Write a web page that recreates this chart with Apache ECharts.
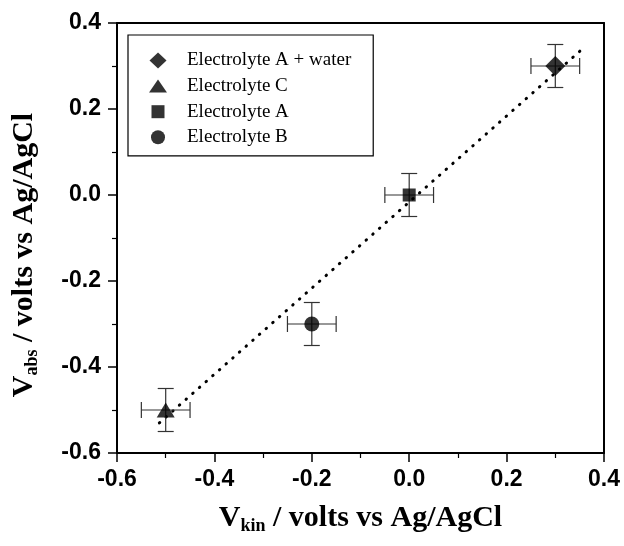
<!DOCTYPE html>
<html><head><meta charset="utf-8">
<script src="https://cdn.jsdelivr.net/npm/echarts@6/dist/echarts.min.js"></script>
<style>html,body{margin:0;padding:0;background:#fff}#chart{width:624px;height:546px}</style>
</head><body><div id="chart"></div>
<script>
// Measured potentials (V vs Ag/AgCl) for each electrolyte
const seriesNames = ['Electrolyte A + water', 'Electrolyte C', 'Electrolyte A', 'Electrolyte B'];
const vKin = [0.3, -0.5, 0.0, -0.2];
const vAbs = [0.3, -0.5, 0.0, -0.3];
const vKinErr = [0.05, 0.05, 0.05, 0.05];
const vAbsErr = [0.05, 0.05, 0.05, 0.05];
// End points of the linear fit
const fitKin = [-0.513, 0.353];
const fitAbs = [-0.530, 0.337];
const axisMin = -0.6, axisMax = 0.4, axisStep = 0.2;

const markerShapes = ['diamond', 'triangle', 'rect', 'circle'];
const markerSizes = [20, [18, 15], 13, 15];
// Legend glyphs drawn in an 18x16 cell (the leading moves pin the cell size)
const legendIcons = [
  'path://M0,0 M18,16 M9,0 L17.5,8 L9,16 L0.5,8 Z',
  'path://M0,0 M18,16 M0,14.5 L9,1.5 L18,14.5 Z',
  'path://M0,0 M18,16 M2.5,1.5 L15.5,1.5 L15.5,14.5 L2.5,14.5 Z',
  'path://M0,0 M18,16 M2,8 A7,7 0 1,0 16,8 A7,7 0 1,0 2,8 Z'
];

const chart = echarts.init(document.getElementById('chart'), null, {renderer: 'canvas'});

const serif = 'Liberation Serif';
const sans = 'Liberation Sans';

function axisCommon() {
  return {
    type: 'value', min: axisMin, max: axisMax, interval: axisStep,
    axisLine: {show: true, onZero: false, lineStyle: {color: '#000', width: 2}},
    axisTick: {show: true, inside: false, length: 9, lineStyle: {color: '#000', width: 1.5}},
    minorTick: {show: true, splitNumber: 2, length: 5, lineStyle: {color: '#000', width: 1.2}},
    splitLine: {show: false},
    axisLabel: {
      color: '#000', fontFamily: sans, fontWeight: 'bold', fontSize: 23,
      formatter: v => v.toFixed(1)
    }
  };
}

function titleRich() {
  return {
    v: {fontFamily: serif, fontSize: 30, color: '#000', fontWeight: 'bold'},
    sub: {fontFamily: serif, fontSize: 18, color: '#000', fontWeight: 'bold', padding: [16, 0, 0, 0]},
    n: {fontFamily: serif, fontSize: 30, color: '#000', fontWeight: 'bold'}
  };
}

const xAxis = Object.assign(axisCommon(), {
  position: 'bottom',
  name: '{v|V}{sub|kin}{n| / volts vs Ag/AgCl}',
  nameLocation: 'middle', nameGap: 48,
  nameTextStyle: {rich: titleRich()}
});
xAxis.axisLabel.margin = 15;

const yAxis = Object.assign(axisCommon(), {
  position: 'left',
  name: '{v|V}{sub|abs}{n| / volts vs Ag/AgCl}',
  nameLocation: 'middle', nameGap: 76, nameRotate: 90,
  nameTextStyle: {rich: titleRich(), padding: [0, 34, 0, 0]}
});
yAxis.axisLabel.margin = 16;

// Frame lines on top and right
const frameAxis = (pos) => ({
  type: 'value', min: axisMin, max: axisMax, interval: axisStep, position: pos,
  axisLine: {show: true, onZero: false, lineStyle: {color: '#000', width: 2}},
  axisTick: {show: false}, axisLabel: {show: false}, splitLine: {show: false}
});

const points = seriesNames.map((n, i) => [vKin[i], vAbs[i], vKinErr[i], vAbsErr[i]]);

const errorSeries = {
  type: 'custom', name: 'errors', z: 3, silent: true,
  data: points,
  renderItem: function (params, api) {
    const x = api.value(0), y = api.value(1), dx = api.value(2), dy = api.value(3);
    const c = api.coord([x, y]);
    const l = api.coord([x - dx, y]), r = api.coord([x + dx, y]);
    const t = api.coord([x, y + dy]), b = api.coord([x, y - dy]);
    const cap = 8;
    const st = {stroke: '#333', lineWidth: 1.2};
    const ln = (x1, y1, x2, y2) => ({type: 'line', shape: {x1, y1, x2, y2}, style: st});
    return {
      type: 'group',
      children: [
        ln(l[0], c[1], r[0], c[1]),
        ln(l[0], c[1] - cap, l[0], c[1] + cap),
        ln(r[0], c[1] - cap, r[0], c[1] + cap),
        ln(c[0], t[1], c[0], b[1]),
        ln(c[0] - cap, t[1], c[0] + cap, t[1]),
        ln(c[0] - cap, b[1], c[0] + cap, b[1])
      ]
    };
  }
};

const fitSeries = {
  type: 'line', name: 'fit', z: 2, silent: true, showSymbol: false, symbol: 'none',
  data: fitKin.map((x, i) => [x, fitAbs[i]]),
  lineStyle: {color: '#000', width: 3, type: [0.5, 8.4], cap: 'round'}
};

const scatterSeries = seriesNames.map((n, i) => ({
  type: 'scatter', name: n, z: 5,
  symbol: markerShapes[i], symbolSize: markerSizes[i],
  itemStyle: {color: '#000'},
  data: [[vKin[i], vAbs[i]]]
}));

chart.setOption({
  animation: false,
  backgroundColor: '#fff',
  grid: {left: 117, top: 23, right: 20, bottom: 93, containLabel: false},
  xAxis: [xAxis, frameAxis('top')],
  yAxis: [yAxis, frameAxis('right')],
  legend: {
    orient: 'vertical', left: 128, top: 35,
    data: seriesNames.map((n, i) => ({name: n, icon: legendIcons[i]})),
    itemWidth: 18, itemHeight: 16, itemGap: 6.6,
    padding: [16, 22, 9, 21],
    borderColor: '#000', borderWidth: 1.2,
    textStyle: {fontFamily: serif, fontSize: 19, lineHeight: 16, color: '#000', padding: [0, 0, 0, 15]},
    selectedMode: false
  },
  series: [fitSeries, errorSeries].concat(scatterSeries)
});
</script>
</body></html>
